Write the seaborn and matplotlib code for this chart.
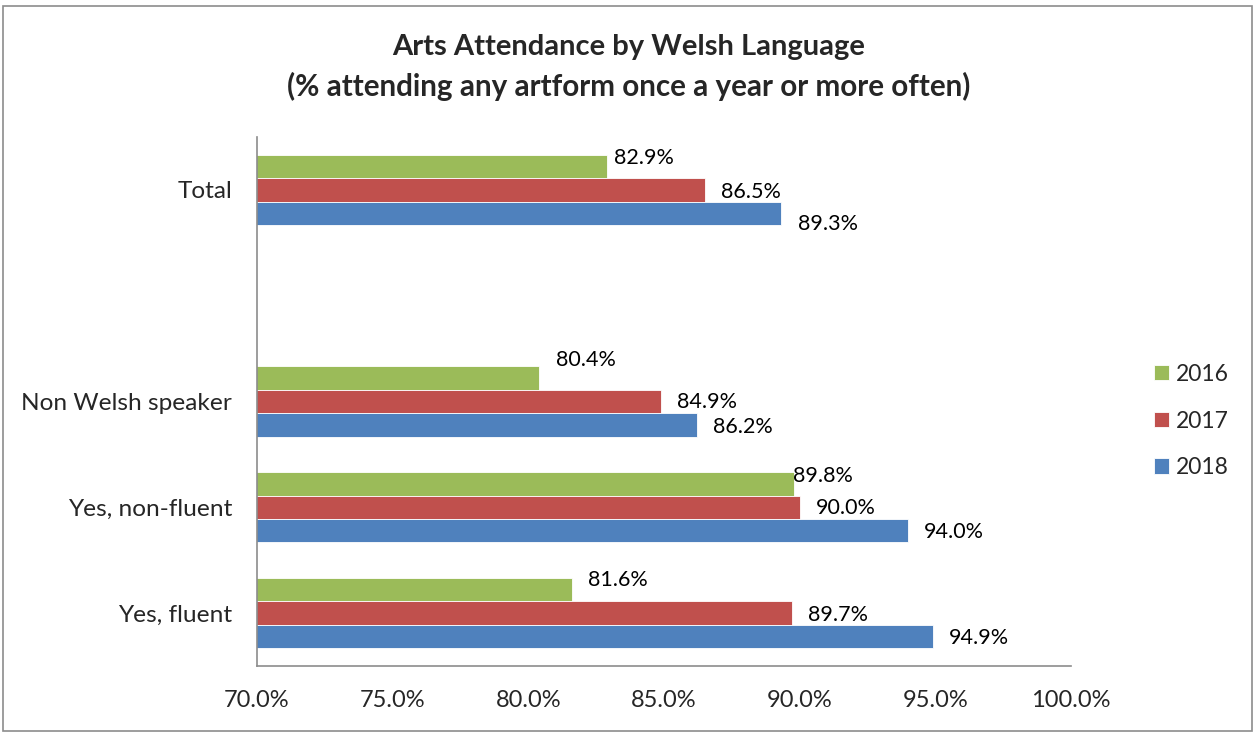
import matplotlib
matplotlib.use("Agg")
import matplotlib.pyplot as plt
import matplotlib.patches as mpatches
import seaborn as sns
import pandas as pd

# Data (percent attending any artform once a year or more)
categories = ["Total", "Non Welsh speaker", "Yes, non-fluent", "Yes, fluent"]
years = ["2016", "2017", "2018"]
pct_2016 = [82.9, 80.4, 89.8, 81.6]
pct_2017 = [86.5, 84.9, 90.0, 89.7]
pct_2018 = [89.3, 86.2, 94.0, 94.9]

# empty slot between Total and the language groups
order = ["Total", " ", "Non Welsh speaker", "Yes, non-fluent", "Yes, fluent"]
colors = ["#9BBB59", "#C0504D", "#4F81BD"]

df = pd.DataFrame({
    "group": categories * 3,
    "year": [y for y in years for _ in categories],
    "pct": pct_2016 + pct_2017 + pct_2018,
})

sns.set_style("white")
plt.rcParams["font.family"] = ["Lato", "DejaVu Sans"]

fig = plt.figure(figsize=(12.55, 7.33), dpi=100)
ax = fig.add_axes([257 / 1255, 1 - 666 / 733, (1071 - 257) / 1255, (666 - 137) / 733])

sns.barplot(data=df, y="group", x="pct", hue="year", order=order, hue_order=years,
            palette=colors, saturation=1, orient="h", width=0.665, gap=0, dodge=True,
            edgecolor="white", linewidth=0.6, ax=ax)

# label nudges in pixels (dx right, dy down) to mimic the original placement
nudges = {
    "2016": [(7, -8), (17, -18), (-1, -8), (16, -10)],
    "2017": [(16, 2), (16, 0), (16, 1), (16, 2)],
    "2018": [(17, 11), (16, 2), (16, 1), (16, 1)],
}
for container, yr in zip(ax.containers, years):
    bars = [b for b in container if b.get_width() == b.get_width() and b.get_height() > 0]
    for bar, (dx, dy) in zip(bars, nudges[yr]):
        val = bar.get_width()
        yc = bar.get_y() + bar.get_height() / 2
        ax.annotate(f"{val:.1f}%", (val, yc), xytext=(dx * 0.72, -dy * 0.72),
                    textcoords="offset points", ha="left", va="center",
                    fontsize=15.5, color="black")

ax.set_xlim(70, 100)
ax.set_xticks([70, 75, 80, 85, 90, 95, 100])
ax.set_xticklabels([f"{t:.1f}%" for t in [70, 75, 80, 85, 90, 95, 100]])
ax.set_xlabel("")
ax.set_ylabel("")
ax.tick_params(axis="x", length=0, pad=17, labelsize=17)
ax.tick_params(axis="y", length=0, pad=18, labelsize=17.6)
for side in ["top", "right"]:
    ax.spines[side].set_visible(False)
for side in ["left", "bottom"]:
    ax.spines[side].set_color("#8C8C8C")
    ax.spines[side].set_linewidth(1.2)

handles, labels = ax.get_legend_handles_labels()
ax.get_legend().remove()
fig.legend(handles, labels, loc="center left", bbox_to_anchor=(1143 / 1255, 1 - 421 / 733),
           frameon=False, fontsize=16.5, handlelength=0.65, handleheight=0.65,
           handletextpad=0.3, labelspacing=1.12, borderpad=0)

fig.text(629 / 1255, 1 - 47 / 733, "Arts Attendance by Welsh Language",
         ha="center", va="center", fontsize=21, fontweight="bold")
fig.text(629 / 1255, 1 - 86 / 733, "(% attending any artform once a year or more often)",
         ha="center", va="center", fontsize=21.3, fontweight="bold")

# chart area border
fig.patches.append(mpatches.Rectangle((3 / 1255, 2 / 733), 1249 / 1255, 725 / 733,
                                      transform=fig.transFigure, fill=False,
                                      edgecolor="#8C8C8C", linewidth=1.2))

fig.savefig("out.png", dpi=100)
